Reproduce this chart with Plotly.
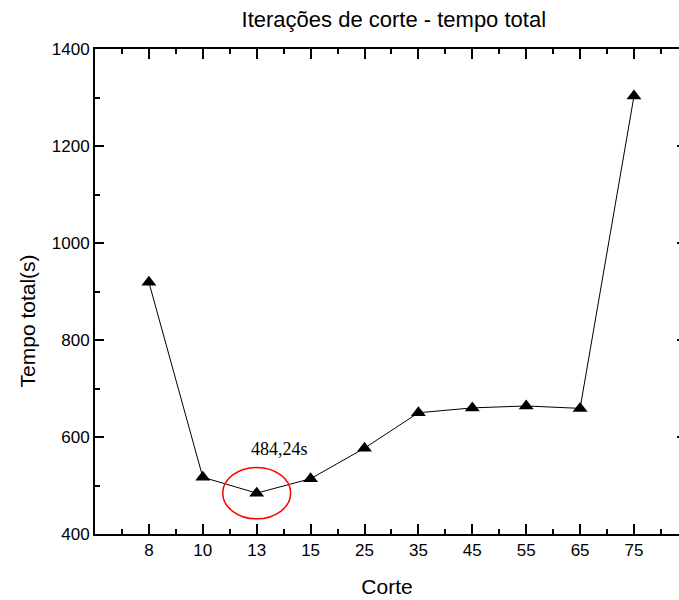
import plotly.graph_objects as go

# Cut iterations vs. total time
cortes = ["8", "10", "13", "15", "25", "35", "45", "55", "65", "75"]
tempo_total = [919, 517, 484.24, 514, 577, 650, 660, 664, 659, 1303]
destaque_idx = 2  # minimum total time
destaque_texto = "484,24s"

pos = list(range(1, len(cortes) + 1))
minor_pos = [p - 0.5 for p in pos] + [pos[-1] + 0.5]

FONT = "Liberation Sans, Arial, sans-serif"

fig = go.Figure()
fig.add_trace(go.Scatter(
    x=pos, y=tempo_total, mode="lines+markers",
    line=dict(color="black", width=1),
    marker=dict(symbol="triangle-up", size=13, color="black"),
    showlegend=False,
))
# invisible trace that carries the right-hand axis ticks
fig.add_trace(go.Scatter(x=[pos[0]], y=[tempo_total[0]], yaxis="y2",
                         mode="markers", marker=dict(opacity=0),
                         showlegend=False, hoverinfo="skip"))

xd = pos[destaque_idx]
yd = tempo_total[destaque_idx]
fig.add_shape(type="circle", xref="x", yref="y",
              x0=xd - 0.63, x1=xd + 0.63, y0=yd - 53, y1=yd + 53,
              line=dict(color="red", width=1.5))
fig.add_annotation(x=xd + 0.42, y=yd, yshift=44, text=destaque_texto,
                   showarrow=False,
                   font=dict(family="Liberation Serif", size=18, color="black"))

# y-axis title placed slightly below the vertical centre
fig.add_annotation(xref="paper", yref="paper", x=-0.115, y=0.44,
                   text="Tempo total(s)", textangle=-90, showarrow=False,
                   xanchor="center", yanchor="middle",
                   font=dict(family=FONT, size=21, color="black"))

fig.update_layout(
    width=679, height=600,
    margin=dict(l=95, r=0, t=49, b=66),
    paper_bgcolor="white", plot_bgcolor="white",
    font=dict(family=FONT, color="black", size=17),
    title=dict(text="Iterações de corte - tempo total", x=0.58, xanchor="center",
               y=0.968, yanchor="middle", font=dict(size=22, family=FONT)),
    xaxis=dict(
        range=[0, 10.835], tickmode="array", tickvals=pos, ticktext=cortes,
        ticks="inside", ticklen=10, tickwidth=1.5, tickcolor="black",
        showline=True, linewidth=2, linecolor="black", mirror="ticks",
        showgrid=False, zeroline=False,
        minor=dict(tickvals=minor_pos, ticks="inside", ticklen=5,
                   tickwidth=1.5, tickcolor="black", showgrid=False),
        tickfont=dict(size=17),
        title=dict(text="Corte", font=dict(size=21), standoff=20),
    ),
    yaxis=dict(
        range=[400, 1400], tickmode="linear", tick0=400, dtick=200,
        ticks="inside", ticklen=9, tickwidth=1.5, tickcolor="black",
        showline=True, linewidth=2, linecolor="black",
        showgrid=False, zeroline=False,
        minor=dict(dtick=100, ticks="inside", ticklen=5, tickwidth=1.5,
                   tickcolor="black", showgrid=False),
        tickfont=dict(size=17),
    ),
    yaxis2=dict(
        overlaying="y", side="right", range=[400, 1400],
        tickmode="linear", tick0=400, dtick=200,
        ticks="inside", ticklen=2, tickwidth=1.5, tickcolor="black",
        showticklabels=False, showline=False, showgrid=False, zeroline=False,
    ),
)

fig.write_html("out.html")
